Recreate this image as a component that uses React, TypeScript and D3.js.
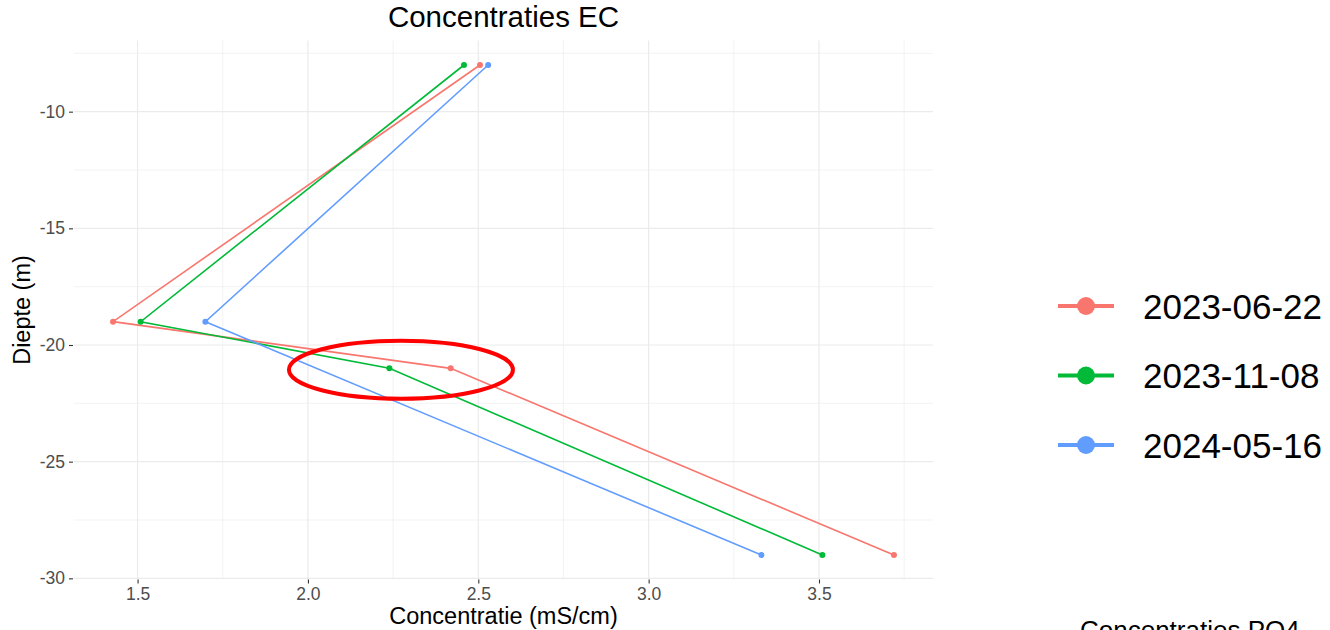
import React, { useEffect, useRef } from 'react';
import * as d3 from 'd3';

// meetdata EC per datum
const dates = ['2023-06-22', '2023-11-08', '2024-05-16'];
const colors = ['#F8766D', '#00BA38', '#619CFF'];
const depth0622 = [-8, -19, -21, -29];
const ec0622 = [2.505, 1.428, 2.419, 3.72];
const depth1108 = [-8, -19, -21, -29];
const ec1108 = [2.458, 1.509, 2.239, 3.51];
const depth0516 = [-8, -19, -29];
const ec0516 = [2.529, 1.699, 3.331];

const xTicks = [1.5, 2.0, 2.5, 3.0, 3.5];
const xMinor = [1.75, 2.25, 2.75, 3.25, 3.75];
const yTicks = [-10, -15, -20, -25, -30];
const yMinor = [-7.5, -12.5, -17.5, -22.5, -27.5];

const title = 'Concentraties EC';
const xLabel = 'Concentratie (mS/cm)';
const yLabel = 'Diepte (m)';
const nextTitle = 'Concentraties PO4';

export default function App() {
    const ref = useRef<SVGSVGElement>(null);

    useEffect(() => {
        const svg = d3.select(ref.current);
        svg.selectAll('*').remove();
        const font = '"Liberation Sans", Arial, sans-serif';

        const series = [
            { name: dates[0], depth: depth0622, ec: ec0622, color: colors[0] },
            { name: dates[1], depth: depth1108, ec: ec1108, color: colors[1] },
            { name: dates[2], depth: depth0516, ec: ec0516, color: colors[2] },
        ];

        // ggplot-achtige expansie van 5%
        const allX = series.flatMap(s => s.ec);
        const allY = series.flatMap(s => s.depth);
        const [x0, x1] = d3.extent(allX) as [number, number];
        const [y0, y1] = d3.extent(allY) as [number, number];
        const ex = (x1 - x0) * 0.05, ey = (y1 - y0) * 0.05;

        const left = 74, right = 933, top = 40.5, bottom = 579.5;

        const x = d3.scaleLinear().domain([x0 - ex, x1 + ex]).range([left, right]);
        const y = d3.scaleLinear().domain([y0 - ey, y1 + ey]).range([bottom, top]);

        const g = svg.append('g');

        // minor grid
        xMinor.forEach(v => {
            g.append('line')
                .attr('x1', x(v)).attr('x2', x(v))
                .attr('y1', top).attr('y2', bottom)
                .style('stroke', '#EBEBEB').style('stroke-width', 0.6);
        });
        yMinor.forEach(v => {
            g.append('line')
                .attr('x1', left).attr('x2', right)
                .attr('y1', y(v)).attr('y2', y(v))
                .style('stroke', '#EBEBEB').style('stroke-width', 0.6);
        });
        // major grid
        xTicks.forEach(v => {
            g.append('line')
                .attr('x1', x(v)).attr('x2', x(v))
                .attr('y1', top).attr('y2', bottom)
                .style('stroke', '#EBEBEB').style('stroke-width', 1.2);
        });
        yTicks.forEach(v => {
            g.append('line')
                .attr('x1', left).attr('x2', right)
                .attr('y1', y(v)).attr('y2', y(v))
                .style('stroke', '#EBEBEB').style('stroke-width', 1.2);
        });

        // assen
        const xAxis = d3.axisBottom(x)
            .tickValues(xTicks)
            .tickSize(4)
            .tickPadding(4)
            .tickFormat(d => d3.format('.1f')(d as number));
        const yAxis = d3.axisLeft(y)
            .tickValues(yTicks)
            .tickSize(4)
            .tickPadding(4)
            .tickFormat(d => String(d));

        const gx = g.append('g').attr('transform', 'translate(0,' + bottom + ')').call(xAxis);
        const gy = g.append('g').attr('transform', 'translate(' + (left - 1) + ',0)').call(yAxis);
        [gx, gy].forEach(a => {
            a.select('.domain').remove();
            a.selectAll('line').style('stroke', '#333333').style('stroke-width', 1.1);
            a.selectAll('text')
                .style('font-family', font)
                .style('font-size', '17.5px')
                .style('fill', '#4D4D4D');
        });

        // lijnen en punten
        const line = d3.line<[number, number]>()
            .x(d => x(d[0]))
            .y(d => y(d[1]));

        series.forEach(s => {
            const pts = s.ec.map((v, i) => [v, s.depth[i]] as [number, number]);
            g.append('path')
                .attr('d', line(pts))
                .attr('fill', 'none')
                .attr('stroke', s.color)
                .attr('stroke-width', 1.6);
            g.selectAll(null)
                .data(pts)
                .enter()
                .append('circle')
                .attr('cx', d => x(d[0]))
                .attr('cy', d => y(d[1]))
                .attr('r', 3)
                .attr('fill', s.color);
        });

        // rode ellips rond de -21 m metingen
        g.append('ellipse')
            .attr('cx', x(2.273))
            .attr('cy', y(-21.06))
            .attr('rx', 112)
            .attr('ry', 29)
            .attr('fill', 'none')
            .attr('stroke', '#FF0000')
            .attr('stroke-width', 4);

        // titels
        g.append('text')
            .attr('x', (left + right) / 2)
            .attr('y', 27)
            .attr('text-anchor', 'middle')
            .style('font-family', font)
            .style('font-size', '29.5px')
            .style('fill', '#000')
            .text(title);

        g.append('text')
            .attr('x', (left + right) / 2)
            .attr('y', 624)
            .attr('text-anchor', 'middle')
            .style('font-family', font)
            .style('font-size', '23.5px')
            .style('fill', '#000')
            .text(xLabel);

        g.append('text')
            .attr('transform', 'translate(30,' + (top + bottom) / 2 + ') rotate(-90)')
            .attr('text-anchor', 'middle')
            .style('font-family', font)
            .style('font-size', '23.5px')
            .style('fill', '#000')
            .text(yLabel);

        // legenda
        const legend = g.append('g');
        series.forEach((s, i) => {
            const ly = 306 + i * 69.5;
            legend.append('line')
                .attr('x1', 1058).attr('x2', 1114)
                .attr('y1', ly).attr('y2', ly)
                .style('stroke', s.color).style('stroke-width', 4);
            legend.append('circle')
                .attr('cx', 1086).attr('cy', ly).attr('r', 9)
                .attr('fill', s.color);
            legend.append('text')
                .attr('x', 1143)
                .attr('y', ly)
                .attr('dy', '0.36em')
                .style('font-family', font)
                .style('font-size', '35px')
                .style('fill', '#000')
                .text(s.name);
        });

        // titel van de volgende grafiek, half zichtbaar
        g.append('text')
            .attr('x', 1080)
            .attr('y', 639)
            .style('font-family', font)
            .style('font-size', '26px')
            .style('fill', '#000')
            .text(nextTitle);
    }, []);

    return (
        <svg ref={ref} width={1330} height={630}
            style={{ position: 'absolute', left: 0, top: 0, background: '#fff' }} />
    );
}
